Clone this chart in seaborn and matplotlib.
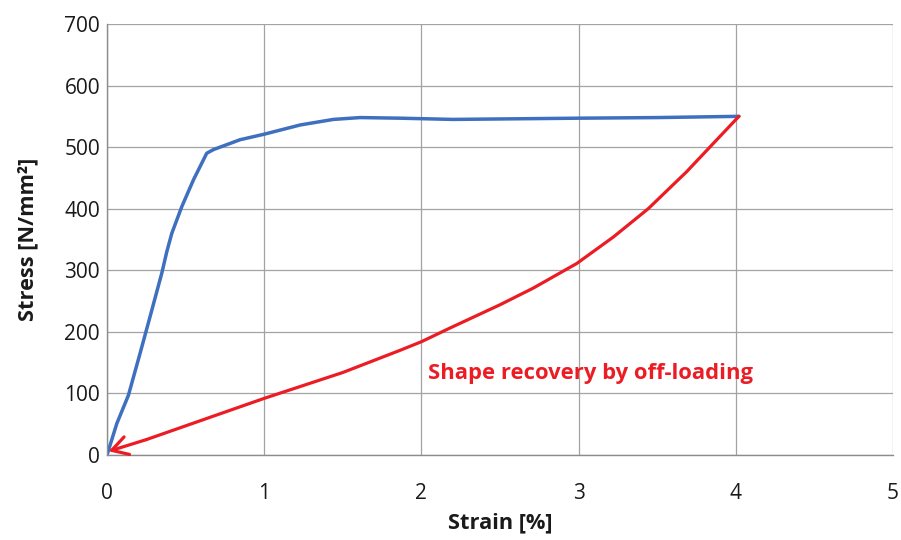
import matplotlib
matplotlib.use("Agg")
import matplotlib.pyplot as plt
import seaborn as sns
import pandas as pd

# Loading curve (strain %, stress N/mm²)
load_strain = [0.0, 0.062, 0.136, 0.21, 0.274, 0.348, 0.38, 0.412, 0.475, 0.55,
               0.634, 0.677, 0.846, 1.0, 1.229, 1.44, 1.61, 1.864, 2.2, 2.6,
               3.0, 3.5, 4.02]
load_stress = [0, 51, 97, 165, 225, 295, 330, 360, 403, 447,
               490, 496, 512, 521, 536, 545, 548, 547, 545, 546,
               547, 548, 550]

# Unloading (shape recovery) curve
unload_strain = [4.02, 3.857, 3.687, 3.443, 3.221, 2.988, 2.711, 2.5, 2.18, 2.0,
                 1.864, 1.5, 1.0, 0.485, 0.25]
unload_stress = [550, 506, 460, 400, 354, 311, 271, 244, 206, 184,
                 170, 134, 92, 46, 25]
arrow_tip = (0.01, 6)

x_ticks = [0, 1, 2, 3, 4, 5]
y_ticks = [0, 100, 200, 300, 400, 500, 600, 700]

x_label = "Strain [%]"
y_label = "Stress [N/mm²]"
note = "Shape recovery by off-loading"

sns.set_theme(style="whitegrid")
plt.rcParams["font.family"] = ["Open Sans", "DejaVu Sans"]

BLUE = "#3f6fbf"
RED = "#ec1c24"
GRID = "#a3a3a3"
TEXT = "#1a1a1a"

fig = plt.figure(figsize=(9.01, 5.40), dpi=100)
ax = fig.add_axes([0.1188, 0.1574, 0.8723, 0.7982])

load_df = pd.DataFrame({"strain": load_strain, "stress": load_stress})
unload_df = pd.DataFrame({"strain": unload_strain, "stress": unload_stress})

sns.lineplot(data=load_df, x="strain", y="stress", sort=False, estimator=None,
             color=BLUE, lw=2.5, ax=ax)
sns.lineplot(data=unload_df, x="strain", y="stress", sort=False, estimator=None,
             color=RED, lw=2.3, ax=ax)
ax.annotate("", xy=arrow_tip, xytext=(unload_strain[-1], unload_stress[-1]),
            arrowprops=dict(arrowstyle="->,head_length=0.95,head_width=0.55",
                            color=RED, lw=2.3, shrinkA=0, shrinkB=0))

ax.text(2.04, 133, note, color=RED, fontsize=15.8, fontweight="bold",
        ha="left", va="center")

ax.set_xlim(0, 5)
ax.set_ylim(0, 700)
ax.set_xticks(x_ticks)
ax.set_yticks(y_ticks)
ax.set_xticklabels([str(v) for v in x_ticks])
ax.set_yticklabels([str(v) for v in y_ticks])
ax.tick_params(axis="both", labelsize=15, colors=TEXT, length=0)
ax.tick_params(axis="x", pad=20)
ax.tick_params(axis="y", pad=5)

ax.set_xlabel(x_label, fontsize=15.7, fontweight="bold", labelpad=6, color=TEXT)
ax.set_ylabel(y_label, fontsize=15.7, fontweight="bold", labelpad=19, color=TEXT)

ax.set_facecolor("white")
ax.grid(True, color=GRID, lw=0.9)
for side in ["top", "right"]:
    ax.spines[side].set_visible(False)
for side in ["left", "bottom"]:
    ax.spines[side].set_visible(True)
    ax.spines[side].set_color("#8c8c8c")
    ax.spines[side].set_linewidth(1.0)
ax.set_axisbelow(True)

fig.savefig("out.png", dpi=100, facecolor="white")
